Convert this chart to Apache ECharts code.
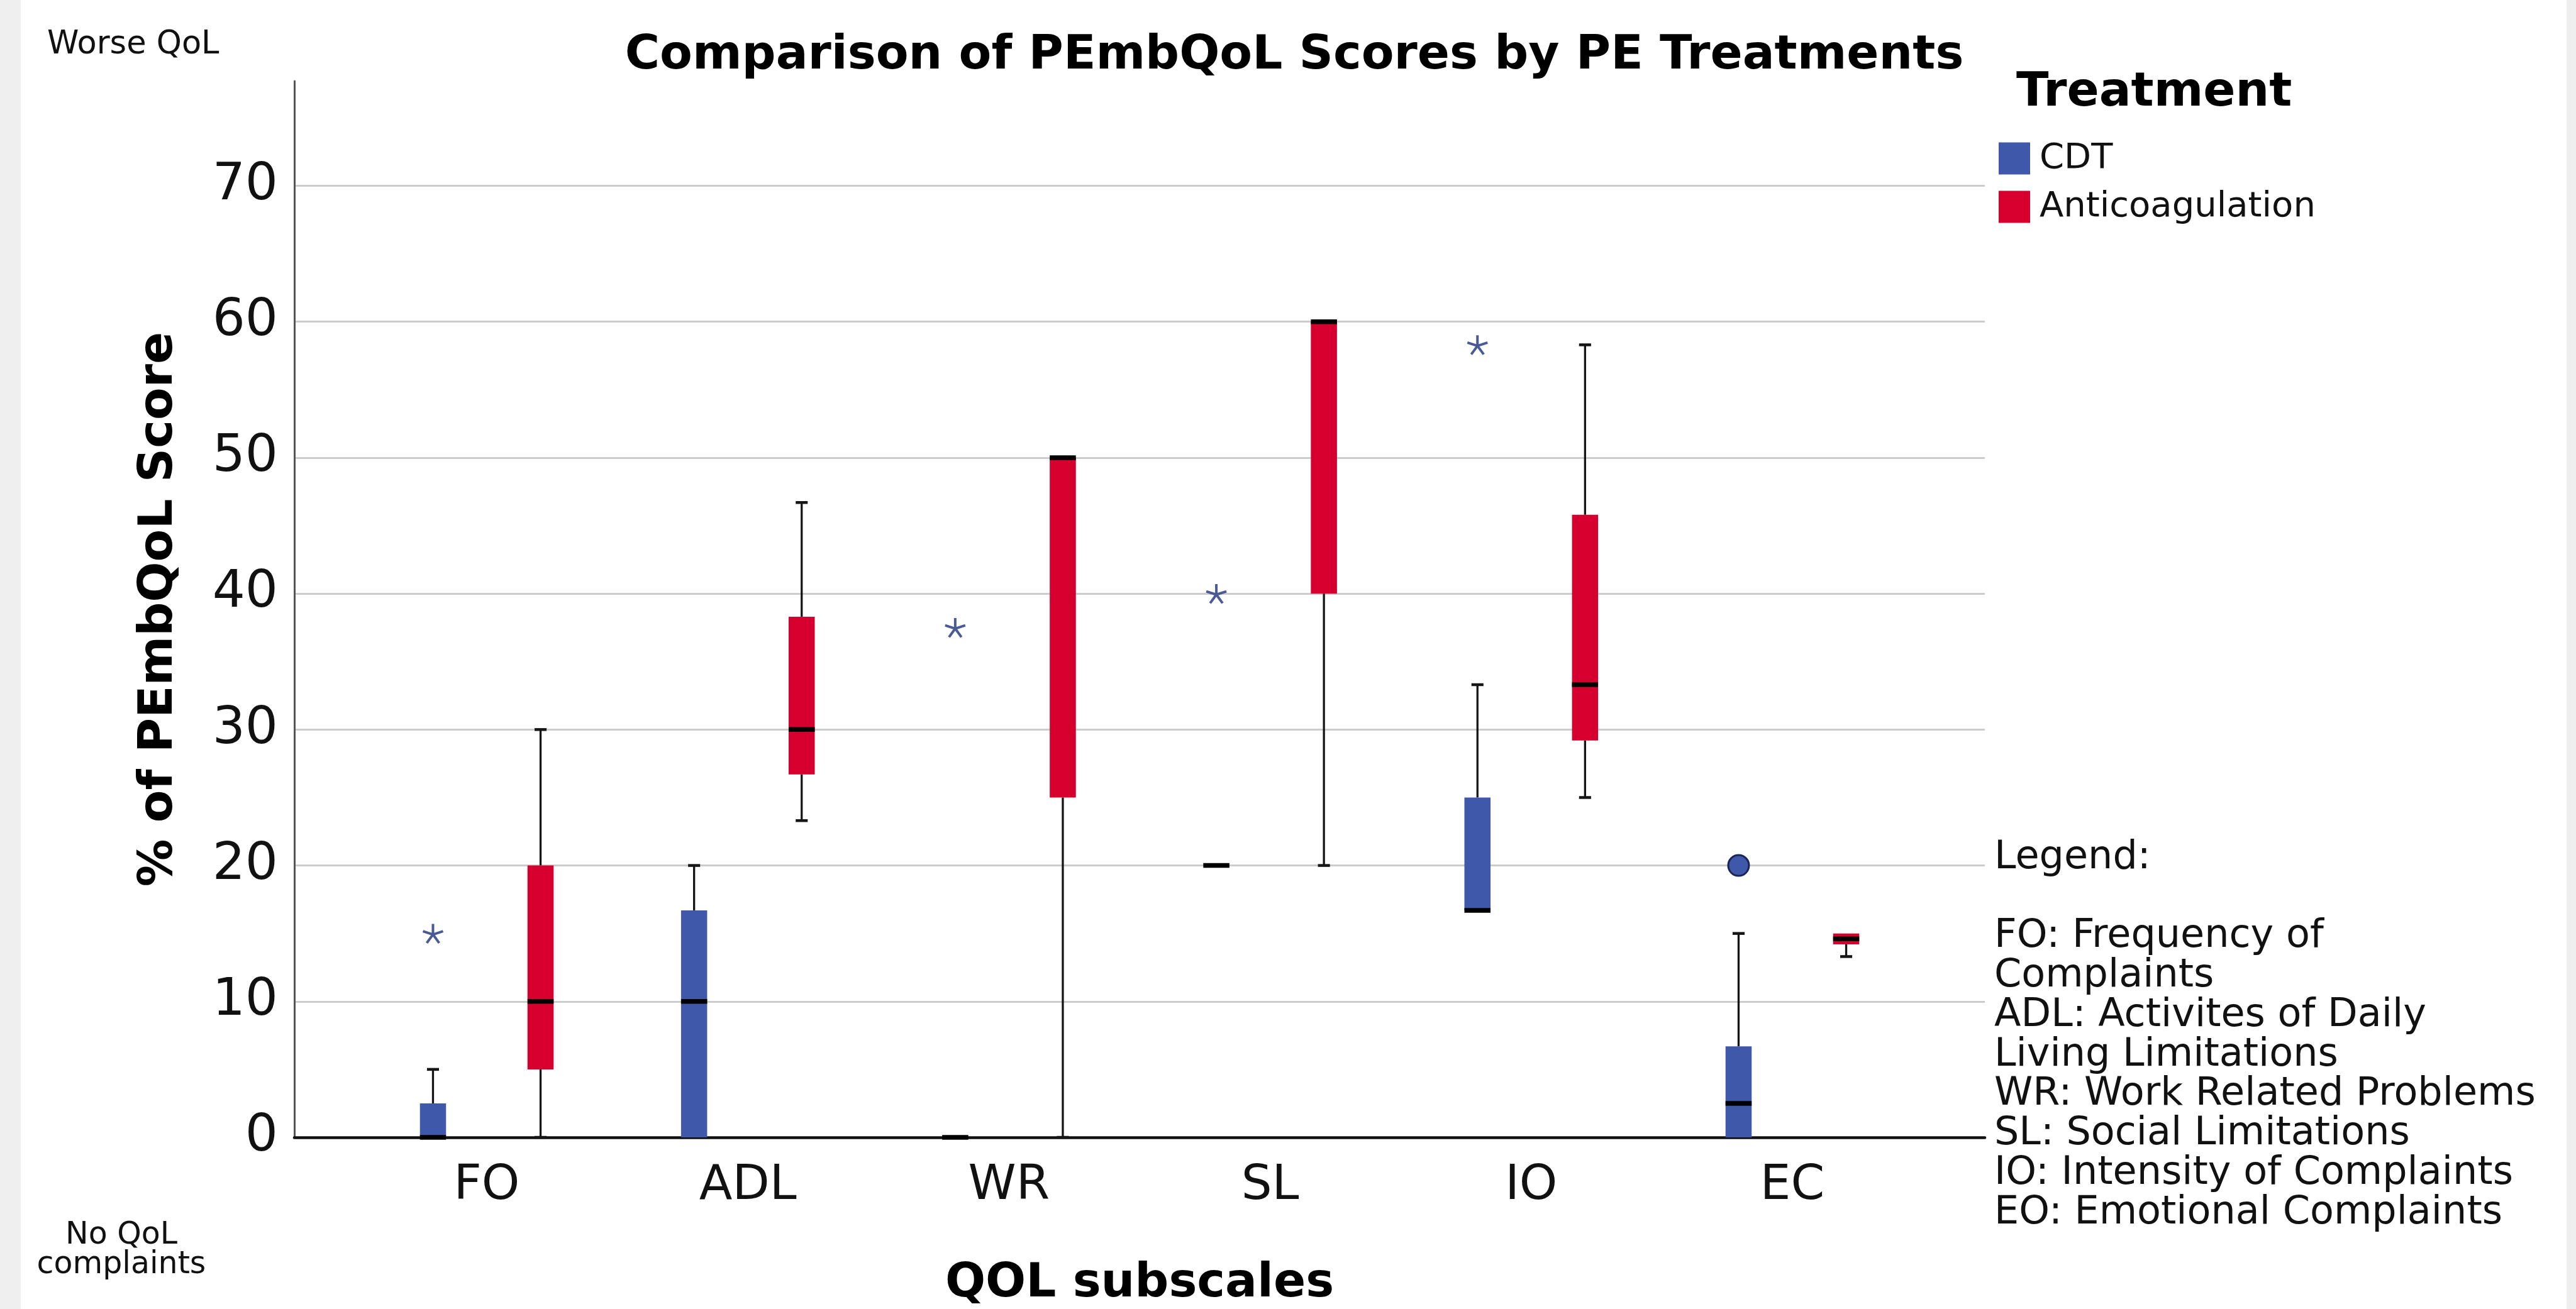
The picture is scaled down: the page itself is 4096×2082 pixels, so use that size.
<!DOCTYPE html>
<html>
<head>
<meta charset="utf-8">
<script src="https://cdn.jsdelivr.net/npm/echarts@6/dist/echarts.min.js"></script>
<style>
html,body{margin:0;padding:0;background:#ffffff;}
#chart{width:4096px;height:2082px;}
</style>
</head>
<body>
<div id="chart"></div>
<script>
// ---------------- data ----------------
const categories = ['FO', 'ADL', 'WR', 'SL', 'IO', 'EC'];
const seriesNames = ['CDT', 'Anticoagulation'];
// [min, Q1, median, Q3, max] per subscale
const cdtStats = [
  [0, 0, 0, 2.5, 5],
  [0, 0, 10, 16.7, 20],
  [0, 0, 0, 0, 0],
  [20, 20, 20, 20, 20],
  [16.7, 16.7, 16.7, 25, 33.3],
  [0, 0, 2.5, 6.7, 15]
];
const antiStats = [
  [0, 5, 10, 20, 30],
  [23.3, 26.7, 30, 38.3, 46.7],
  [0, 25, 50, 50, 50],
  [20, 40, 60, 60, 60],
  [25, 29.2, 33.3, 45.8, 58.3],
  [13.3, 14.2, 14.6, 15, 15]
];
// [subscale index, value]
const cdtExtremes = [[0, 15], [2, 37.5], [3, 40], [4, 58.3]];
const cdtOutliers = [[5, 20]];
const yTickValues = [0, 10, 20, 30, 40, 50, 60, 70];
const legendLines = [
  'Legend:', '',
  'FO: Frequency of', 'Complaints',
  'ADL: Activites of Daily', 'Living Limitations',
  'WR: Work Related Problems',
  'SL: Social Limitations',
  'IO: Intensity of Complaints',
  'EO: Emotional Complaints'
];
const titleText = 'Comparison of PEmbQoL Scores by PE Treatments';

// ---------------- styling ----------------
const F = 'DejaVu Sans';
const COLORS = { CDT: '#3F58AA', Anticoagulation: '#D5002E' };
const GROUP_OFFSET = 0.206;   // fraction of a category step
const BOX_W = 0.1;
const CAP_W = 0.046;

function boxRenderer(offset, color) {
  return function (params, api) {
    const x = api.value(0) + offset;
    const mn = api.value(1), q1 = api.value(2), md = api.value(3), q3 = api.value(4), mx = api.value(5);
    const bw = api.size([BOX_W, 0])[0];
    const cw = api.size([CAP_W, 0])[0];
    const pMin = api.coord([x, mn]);
    const pQ1 = api.coord([x, q1]);
    const pMd = api.coord([x, md]);
    const pQ3 = api.coord([x, q3]);
    const pMx = api.coord([x, mx]);
    const cx = pMd[0];
    const kids = [];
    const wStyle = { stroke: '#151515', lineWidth: 3.3 };
    const cStyle = { stroke: '#151515', lineWidth: 4.5 };
    if (mx > q3) {
      kids.push({ type: 'line', shape: { x1: cx, y1: pQ3[1], x2: cx, y2: pMx[1] }, style: wStyle });
      kids.push({ type: 'line', shape: { x1: cx - cw / 2, y1: pMx[1], x2: cx + cw / 2, y2: pMx[1] }, style: cStyle });
    }
    if (mn < q1) {
      kids.push({ type: 'line', shape: { x1: cx, y1: pQ1[1], x2: cx, y2: pMin[1] }, style: wStyle });
      kids.push({ type: 'line', shape: { x1: cx - cw / 2, y1: pMin[1], x2: cx + cw / 2, y2: pMin[1] }, style: cStyle });
    }
    if (q3 > q1) {
      kids.push({ type: 'rect', shape: { x: cx - bw / 2, y: pQ3[1], width: bw, height: pQ1[1] - pQ3[1] }, style: { fill: color } });
    }
    kids.push({ type: 'line', shape: { x1: cx - bw / 2, y1: pMd[1], x2: cx + bw / 2, y2: pMd[1] }, style: { stroke: '#000', lineWidth: 7.5 } });
    return { type: 'group', children: kids };
  };
}

const STAR = 'M50 50L50 0M50 50L97.55 34.55M50 50L79.39 90.45M50 50L20.61 90.45M50 50L2.45 34.55';
function starRenderer(offset, color) {
  return function (params, api) {
    const p = api.coord([api.value(0) + offset, api.value(1)]);
    const s = 32;
    return { type: 'path', shape: { pathData: STAR, x: p[0] - s / 2, y: p[1] - s / 2, width: s, height: s, layout: 'center' },
      style: { stroke: color, lineWidth: 4, fill: null } };
  };
}
function circleRenderer(offset, color) {
  return function (params, api) {
    const p = api.coord([api.value(0) + offset, api.value(1)]);
    return { type: 'circle', shape: { cx: p[0], cy: p[1], r: 16.5 },
      style: { fill: color, stroke: '#1B2555', lineWidth: 3 } };
  };
}

const chart = echarts.init(document.getElementById('chart'), null, { renderer: 'canvas' });

const option = {
  animation: false,
  backgroundColor: '#ffffff',
  textStyle: { fontFamily: F },
  title: {
    text: titleText,
    left: 2058, top: 51, textAlign: 'center', padding: 0,
    textStyle: { fontFamily: F, fontWeight: 'bold', fontSize: 75.5, color: '#000' }
  },
  legend: {
    data: seriesNames,
    orient: 'vertical',
    left: 3173, top: 219,
    icon: 'rect', itemWidth: 50, itemHeight: 51, itemGap: 21,
    selectedMode: false,
    textStyle: { fontFamily: F, fontSize: 56, color: '#111', padding: [0, 0, 0, 10] }
  },
  grid: { left: 468, top: 129, width: 2688, height: 1680, containLabel: false, outerBoundsMode: 'none' },
  xAxis: {
    type: 'value',
    min: -0.737, max: 5.737,
    name: 'QOL subscales',
    nameLocation: 'middle', nameGap: 195,
    nameTextStyle: { fontFamily: F, fontWeight: 'bold', fontSize: 75.5, color: '#000' },
    axisLine: { show: true, onZero: false, lineStyle: { color: '#111', width: 4.5 } },
    axisTick: { show: false },
    splitLine: { show: false },
    axisLabel: {
      customValues: [0, 1, 2, 3, 4, 5],
      formatter: v => categories[Math.round(v)] || '',
      fontFamily: F, fontSize: 77, color: '#111', margin: 39
    }
  },
  yAxis: {
    type: 'value',
    min: 0, max: 77.7, interval: 10,
    name: '% of PEmbQoL Score',
    nameLocation: 'middle', nameGap: 177,
    nameTextStyle: { fontFamily: F, fontWeight: 'bold', fontSize: 75.5, color: '#000' },
    axisLine: { show: true, onZero: false, lineStyle: { color: '#555', width: 3 } },
    axisTick: { show: false },
    axisLabel: {
      customValues: yTickValues,
      fontFamily: F, fontSize: 82, color: '#111', margin: 26
    },
    splitLine: {
      show: true,
      lineStyle: { width: 3, color: ['#cccccc', '#cccccc', '#cccccc', '#cccccc', '#cccccc', '#cccccc', '#cccccc', '#cccccc', 'rgba(0,0,0,0)'] }
    }
  },
  graphic: [
    { type: 'rect', shape: { x: 0, y: 0, width: 33, height: 2082 }, style: { fill: '#efefef' }, z: 100 },
    { type: 'rect', shape: { x: 4081, y: 0, width: 15, height: 2082 }, style: { fill: '#efefef' }, z: 100 },
    { type: 'text', x: 3206, y: 148, style: { text: 'Treatment', font: 'bold 75.5px "DejaVu Sans"', fill: '#000', verticalAlign: 'middle' } },
    { type: 'text', x: 75, y: 72, style: { text: 'Worse QoL', font: '51px "DejaVu Sans"', fill: '#111', verticalAlign: 'middle' } },
    { type: 'text', x: 193, y: 1989, style: { text: 'No QoL\ncomplaints', font: '49px "DejaVu Sans"', lineHeight: 47, fill: '#111', align: 'center', verticalAlign: 'middle' } },
    { type: 'text', x: 3171, y: 1333, style: { text: legendLines.join('\n'), font: '62px "DejaVu Sans"', lineHeight: 62.8, fill: '#111', verticalAlign: 'top' } }
  ],
  series: [
    {
      name: seriesNames[0], type: 'custom',
      itemStyle: { color: COLORS.CDT },
      renderItem: boxRenderer(-GROUP_OFFSET, COLORS.CDT),
      encode: { x: 0, y: [1, 2, 3, 4, 5] },
      data: cdtStats.map((s, i) => [i].concat(s)),
      z: 3
    },
    {
      name: seriesNames[1], type: 'custom',
      itemStyle: { color: COLORS.Anticoagulation },
      renderItem: boxRenderer(GROUP_OFFSET, COLORS.Anticoagulation),
      encode: { x: 0, y: [1, 2, 3, 4, 5] },
      data: antiStats.map((s, i) => [i].concat(s)),
      z: 3
    },
    {
      name: 'CDT extremes', type: 'custom',
      renderItem: starRenderer(-GROUP_OFFSET, '#4A5A95'),
      encode: { x: 0, y: 1 },
      data: cdtExtremes,
      z: 4
    },
    {
      name: 'CDT outliers', type: 'custom',
      renderItem: circleRenderer(-GROUP_OFFSET, COLORS.CDT),
      encode: { x: 0, y: 1 },
      data: cdtOutliers,
      z: 4
    }
  ]
};
chart.setOption(option);
</script>
</body>
</html>
